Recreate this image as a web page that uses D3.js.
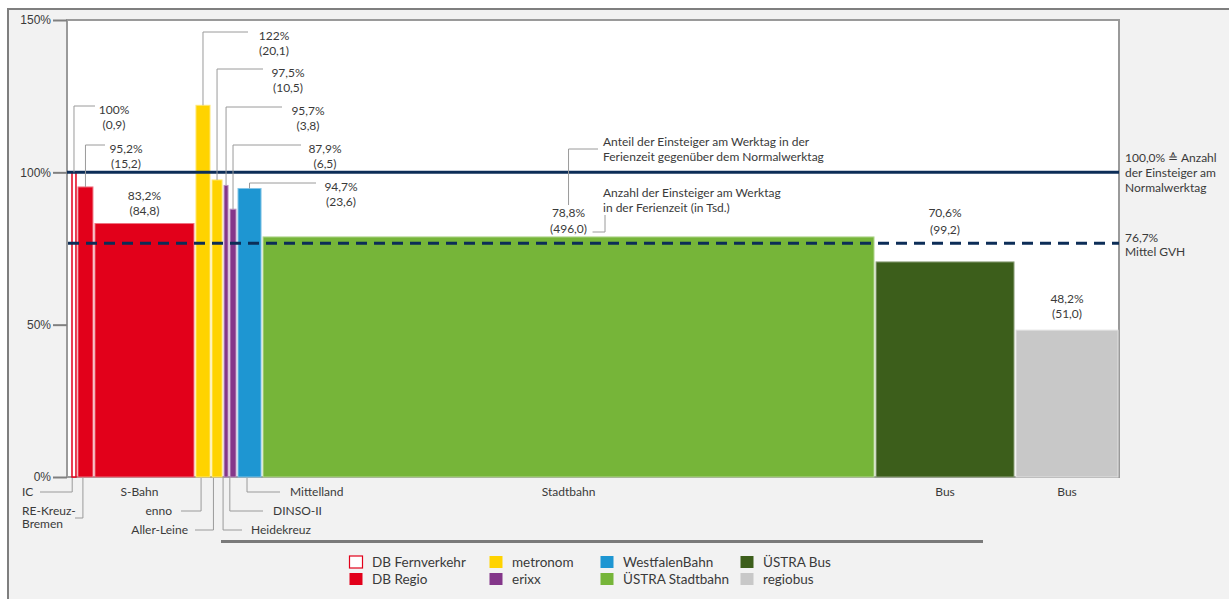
<!DOCTYPE html>
<html><head><meta charset="utf-8">
<script src="https://cdn.jsdelivr.net/npm/d3@7"></script>
<style>
html,body{margin:0;padding:0;background:#fff;}
svg{display:block;font-family:"Lato",sans-serif;}
</style></head><body>
<svg id="chart" width="1229" height="599"></svg>
<script>
// ---------------- DATA ----------------
const categories = ["IC", "RE-Kreuz-Bremen", "S-Bahn", "enno", "Aller-Leine", "Heidekreuz", "DINSO-II", "Mittelland", "Stadtbahn", "Bus", "Bus"];
const operators = ["DB Fernverkehr", "DB Regio", "DB Regio", "metronom", "metronom", "erixx", "erixx", "WestfalenBahn", "ÜSTRA Stadtbahn", "ÜSTRA Bus", "regiobus"];
// Anteil der Einsteiger am Werktag in der Ferienzeit gegenüber dem Normalwerktag (%)
const shareValues = [100, 95.2, 83.2, 122, 97.5, 95.7, 87.9, 94.7, 78.8, 70.6, 48.2];
// Anzahl der Einsteiger am Werktag in der Ferienzeit (in Tsd.)
const boardings = [0.9, 15.2, 84.8, 20.1, 10.5, 3.8, 6.5, 23.6, 496.0, 99.2, 51.0];
// relative bar widths (share of horizontal axis, %)
const widthShares = [0.57, 1.62, 9.64, 1.53, 1.15, 0.57, 0.76, 2.39, 58.49, 13.36, 9.92];
const yTicks = [0, 50, 100, 150];
const referenceValue = 100;
const averageValue = 76.7;
const legendItems = ["DB Fernverkehr", "DB Regio", "metronom", "erixx", "WestfalenBahn", "ÜSTRA Stadtbahn", "ÜSTRA Bus", "regiobus"];

// ---------------- STYLE / LAYOUT ----------------
const colors = {
  "DB Fernverkehr": "#ffffff",
  "DB Regio": "#e2001a",
  "metronom": "#ffd300",
  "erixx": "#84378a",
  "WestfalenBahn": "#1e96d2",
  "ÜSTRA Stadtbahn": "#76b539",
  "ÜSTRA Bus": "#3c5e1b",
  "regiobus": "#c8c8c8"
};
const navy = "#0c2d57";
const textColor = "#3a3a3a";
const leaderColor = "#9a9a9a";
const fontSize = 12;

// top value labels
const topLayout = [
  {type: "leader", elbowY: 106, lineEnd: 95, textX: 114},
  {type: "leader", elbowY: 145, lineEnd: 105, textX: 126},
  {type: "above", y1: 196, y2: 211},
  {type: "leader", elbowY: 32, lineEnd: 248, textX: 274},
  {type: "leader", elbowY: 69, lineEnd: 263, textX: 288},
  {type: "leader", elbowY: 107, lineEnd: 282, textX: 308},
  {type: "leader", elbowY: 145, lineEnd: 301, textX: 325},
  {type: "leader", elbowY: 183, lineEnd: 316, textX: 341},
  {type: "above", y1: 213, y2: 229},
  {type: "above", y1: 213, y2: 230},
  {type: "above", y1: 299, y2: 314}
];
// bottom category labels
const bottomLayout = [
  {type: "left", frac: 0.2, y: 492, lineTo: 40, textX: 22},
  {type: "left", frac: 0.35, y: 518, lineTo: 75, textX: 22, lines: ["RE-Kreuz-", "Bremen"], ly: [511, 524]},
  {type: "center", y: 492, dx: -5},
  {type: "right", frac: 0.38, y: 511, lineTo: 181, textX: 172},
  {type: "right", frac: 0.2, y: 530, lineTo: 195, textX: 188},
  {type: "leftText", frac: 0.0, y: 530, lineTo: 242, textX: 251},
  {type: "leftText", frac: 0.1, y: 511, lineTo: 263, textX: 273},
  {type: "leftText", frac: 0.4, y: 492, lineTo: 280, textX: 290},
  {type: "center", y: 492, dx: 0},
  {type: "center", y: 492, dx: 0},
  {type: "center", y: 492, dx: 0}
];
const legendCols = [349, 489, 600, 740];
const legendRows = [562, 579];

// ---------------- CHART ----------------
const svg = d3.select("#chart");
const de = d3.formatLocale({decimal: ",", thousands: ".", grouping: [3], currency: ["", " €"]});
const fmt1 = de.format(".1f");
const fmtPct = v => (Number.isInteger(v) ? de.format("d")(v) : fmt1(v)) + "%";
const fmtCount = v => "(" + fmt1(v) + ")";

const plot = {left: 67, right: 1119, top: 20, bottom: 477};
const starts = Array.from(d3.cumsum([0, ...widthShares]));
const x = d3.scaleLinear().domain([0, d3.sum(widthShares)]).range([plot.left + 4, plot.right]);
const y = d3.scaleLinear().domain([0, 150]).range([plot.bottom, plot.top]);

// outer frame
svg.append("rect").attr("x", 8).attr("y", 8).attr("width", 1240).attr("height", 620)
  .attr("fill", "#f2f2f2");
svg.append("path").attr("d", "M8,620 V9 H1229").attr("fill", "none").attr("stroke", "#7f7f7f").attr("stroke-width", 2);

// plot area
svg.append("rect").attr("x", plot.left).attr("y", plot.top)
  .attr("width", plot.right - plot.left).attr("height", plot.bottom - plot.top)
  .attr("fill", "#fff").attr("stroke", "#9a9a9a").attr("stroke-width", 2);

// y axis
const yAxis = d3.axisLeft(y).tickValues(yTicks).tickFormat(d => d + "%").tickSize(14).tickPadding(2);
const ga = svg.append("g").attr("transform", `translate(${plot.left},0)`).call(yAxis);
ga.select(".domain").remove();
ga.selectAll(".tick line").attr("stroke", "#808080").attr("stroke-width", 2);
ga.selectAll(".tick text").attr("fill", textColor).attr("font-size", fontSize).attr("font-family", null);

// bars
const bars = categories.map((c, i) => ({
  cat: c, op: operators[i], v: shareValues[i], n: boardings[i],
  x0: x(starts[i]), x1: x(starts[i + 1])
}));
svg.append("g").selectAll("rect").data(bars).join("rect")
  .attr("x", d => d.x0 + 1)
  .attr("width", d => Math.max(0.5, d.x1 - d.x0 - 2))
  .attr("y", d => y(d.v))
  .attr("height", d => y(0) - y(d.v))
  .attr("fill", d => colors[d.op])
  .attr("stroke", d => d.op === "DB Fernverkehr" ? colors["DB Regio"] : d3.interpolateRgb(colors[d.op], "#fff")(0.45))
  .attr("stroke-width", d => d.op === "DB Fernverkehr" ? 1.5 : 1);

// reference lines
svg.append("line").attr("x1", plot.left).attr("x2", plot.right)
  .attr("y1", y(referenceValue)).attr("y2", y(referenceValue))
  .attr("stroke", navy).attr("stroke-width", 3);
svg.append("line").attr("x1", plot.left + 1).attr("x2", plot.right)
  .attr("y1", y(averageValue)).attr("y2", y(averageValue))
  .attr("stroke", navy).attr("stroke-width", 3).attr("stroke-dasharray", "11,7");

// text helper
function txt(g, xx, yy, s, anchor, size) {
  return g.append("text").attr("x", xx).attr("y", yy).attr("dy", "0.35em")
    .attr("text-anchor", anchor || "middle").attr("font-size", size || fontSize)
    .attr("fill", textColor).text(s);
}
const gl = svg.append("g");

// top labels
bars.forEach((d, i) => {
  const L = topLayout[i];
  const cx = (d.x0 + d.x1) / 2;
  if (L.type === "leader") {
    gl.append("path").attr("d", `M${cx},${y(d.v)} V${L.elbowY} H${L.lineEnd}`)
      .attr("fill", "none").attr("stroke", leaderColor).attr("stroke-width", 1);
    txt(gl, L.textX, L.elbowY + 4, fmtPct(d.v));
    txt(gl, L.textX, L.elbowY + 18.5, fmtCount(d.n));
  } else {
    txt(gl, cx, L.y1, fmtPct(d.v));
    txt(gl, cx, L.y2, fmtCount(d.n));
  }
});

// explanatory annotation for Stadtbahn
(function () {
  const d = bars[8];
  const cx = (d.x0 + d.x1) / 2;
  gl.append("path").attr("d", `M${cx},205 V149 H598`).attr("fill", "none").attr("stroke", leaderColor);
  gl.append("path").attr("d", `M${cx + 24},232 H605 V215`).attr("fill", "none").attr("stroke", leaderColor);
  txt(gl, 603, 142, "Anteil der Einsteiger am Werktag in der", "start");
  txt(gl, 603, 157, "Ferienzeit gegenüber dem Normalwerktag", "start");
  txt(gl, 603, 193, "Anzahl der Einsteiger am Werktag", "start");
  txt(gl, 603, 208, "in der Ferienzeit (in Tsd.)", "start");
})();

// right side annotations
txt(gl, 1125, 158, fmt1(referenceValue) + "% ≙ Anzahl", "start");
txt(gl, 1125, 173, "der Einsteiger am", "start");
txt(gl, 1125, 188, "Normalwerktag", "start");
txt(gl, 1125, 238, fmt1(averageValue) + "%", "start");
txt(gl, 1125, 252, "Mittel GVH", "start");

// bottom labels
bars.forEach((d, i) => {
  const L = bottomLayout[i];
  const cx = (d.x0 + d.x1) / 2;
  const bx = d.x0 + (d.x1 - d.x0) * L.frac;
  if (L.type === "center") {
    txt(gl, cx + L.dx, L.y, d.cat);
    return;
  }
  gl.append("path").attr("d", `M${bx},${plot.bottom + 1} V${L.y} H${L.lineTo}`)
    .attr("fill", "none").attr("stroke", leaderColor).attr("stroke-width", 1);
  if (L.type === "left" && L.lines) {
    L.lines.forEach((s, k) => txt(gl, L.textX, L.ly[k], s, "start"));
  } else if (L.type === "left" || L.type === "leftText") {
    txt(gl, L.textX, L.y, d.cat, "start");
  } else {
    txt(gl, L.textX, L.y, d.cat, "end");
  }
});

// separator line
svg.append("line").attr("x1", 221).attr("x2", 983).attr("y1", 541.5).attr("y2", 541.5)
  .attr("stroke", "#7a7a7a").attr("stroke-width", 3);

// legend
const lg = svg.append("g");
legendItems.forEach((name, i) => {
  const cxl = legendCols[Math.floor(i / 2)];
  const cyl = legendRows[i % 2];
  const isOutline = name === "DB Fernverkehr";
  lg.append("rect").attr("x", cxl + 0.5).attr("y", cyl - 6)
    .attr("width", 13).attr("height", 12)
    .attr("fill", colors[name])
    .attr("stroke", isOutline ? colors["DB Regio"] : "none").attr("stroke-width", 1.2);
  txt(lg, cxl + 23, cyl, name, "start", 13.5);
});
</script>
</body></html>
